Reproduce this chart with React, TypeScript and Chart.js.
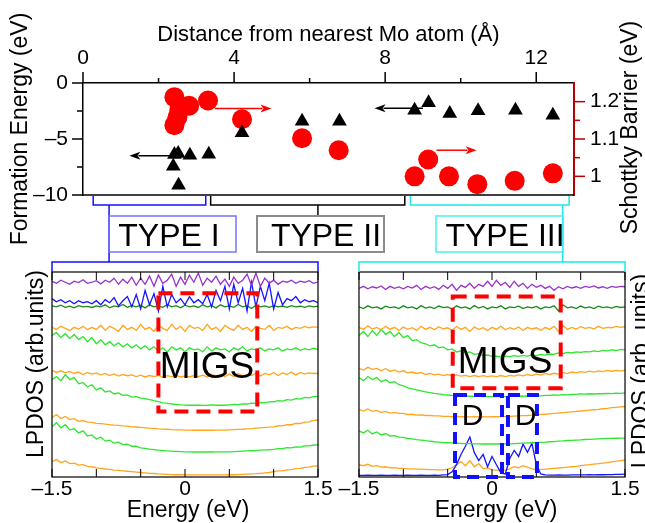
import React, { useEffect, useRef } from 'react';
import { Chart, registerables } from 'chart.js';
Chart.register(...registerables);

const FONT = '"Liberation Sans", Arial, Helvetica, sans-serif';
const DARK_RED = '#b80000';

// ---------- top panel data ----------
const TRI_DIST = [2.42, 2.52, 2.83, 3.33, 2.39, 2.53, 4.21, 5.8, 6.79, 8.78, 9.15, 9.71, 10.46, 11.45, 12.44];
const TRI_FORM_E = [-6.38, -6.3, -6.45, -6.37, -7.43, -9.12, -4.45, -3.41, -3.41, -2.43, -1.77, -2.72, -2.48, -2.43, -2.87];
const CIRC_DIST = [2.42, 2.81, 2.55, 2.5, 2.42, 3.31, 4.21, 5.8, 6.77, 8.78, 9.14, 9.69, 10.44, 11.43, 12.44];
const CIRC_BARRIER = [1.212, 1.189, 1.178, 1.158, 1.137, 1.203, 1.153, 1.102, 1.07, 1.0, 1.045, 1.0, 0.979, 0.988, 1.008];

const DIST_LABEL_TICKS = [0, 4, 8, 12];
const DIST_MINOR_TICKS = [2, 6, 10];
const FORM_LABEL_TICKS = [0, -5, -10];
const FORM_MINOR_TICKS = [-2.5, -7.5];
const BARRIER_LABEL_TICKS = [1.0, 1.1, 1.2];
const BARRIER_MINOR_TICKS = [1.05, 1.15];

// arrows
const ARROW_FROM_X = [2.43, 3.49, 9.0, 9.36];
const ARROW_TO_X = [1.23, 4.99, 7.72, 10.42];
const ARROW_Y = [-6.49, 1.182, -2.26, 1.07];
const ARROW_AXIS = ['yL', 'yR', 'yL', 'yR'];

const TYPE_NAMES = ['TYPE I', 'TYPE II', 'TYPE III'];
const TYPE_START = [0.27, 3.38, 8.67];
const TYPE_END = [3.25, 8.52, 12.87];
const TYPE_LINK = [0.69, 6.22, 12.7];

// ---------- LPDOS data ----------
const ENERGY = [-1.5, -1.45, -1.4, -1.35, -1.3, -1.25, -1.2, -1.15, -1.1, -1.05,
  -1, -0.95, -0.9, -0.85, -0.8, -0.75, -0.7, -0.65, -0.6, -0.55,
  -0.5, -0.45, -0.4, -0.35, -0.3, -0.25, -0.2, -0.15, -0.1, -0.05,
  0, 0.05, 0.1, 0.15, 0.2, 0.25, 0.3, 0.35, 0.4, 0.45,
  0.5, 0.55, 0.6, 0.65, 0.7, 0.75, 0.8, 0.85, 0.9, 0.95,
  1, 1.05, 1.1, 1.15, 1.2, 1.25, 1.3, 1.35, 1.4, 1.45, 1.5];
const ENERGY_LABEL_TICKS = [-1.5, 0, 1.5];
const ENERGY_TICKS = [-1.5, -1, -0.5, 0, 0.5, 1, 1.5];

const L_PURPLE = [9.55, 9.45, 9.6, 9.5, 9.4, 9.55, 9.48, 9.62, 9.45, 9.5, 9.58, 9.42, 9.6, 9.5, 9.7, 9.4, 9.65, 9.45, 9.75, 9.35, 9.7, 9.4, 9.8, 9.3, 9.85, 9.45, 9.6, 9.9, 9.3, 9.75, 9.4, 9.85, 9.5, 9.95, 9.35, 9.7, 9.5, 9.8, 9.4, 9.65, 9.3, 9.75, 9.45, 9.6, 9.9, 9.35, 9.95, 9.3, 9.7, 9.45, 9.6, 9.4, 9.55, 9.5, 9.6, 9.45, 9.55, 9.5, 9.58, 9.45, 9.52];
const L_BLUE = [8.7, 8.55, 8.65, 8.5, 8.6, 8.45, 8.6, 8.5, 8.55, 8.45, 8.6, 8.4, 8.65, 8.5, 8.75, 8.35, 8.6, 8.8, 8.3, 8.9, 8.2, 9.1, 8.4, 8.95, 8.1, 9.3, 8.3, 8.9, 8.5, 8.7, 8.4, 8.8, 8.5, 8.65, 8.45, 8.9, 8.3, 9.1, 8.6, 9.3, 8.2, 9.4, 8.5, 9.2, 8.1, 9.5, 8.3, 9.3, 8.6, 9.45, 8.2, 9.0, 8.4, 8.7, 8.6, 8.8, 8.5, 8.65, 8.55, 8.6, 8.5];
const L_DKGREEN = [8.35, 8.3, 8.38, 8.28, 8.33, 8.25, 8.36, 8.3, 8.32, 8.27, 8.35, 8.3, 8.4, 8.25, 8.35, 8.3, 8.42, 8.28, 8.36, 8.3, 8.38, 8.25, 8.4, 8.3, 8.35, 8.28, 8.42, 8.3, 8.36, 8.25, 8.38, 8.3, 8.35, 8.27, 8.4, 8.3, 8.36, 8.25, 8.4, 8.3, 8.35, 8.28, 8.42, 8.3, 8.36, 8.22, 8.38, 8.3, 8.35, 8.28, 8.36, 8.3, 8.34, 8.28, 8.36, 8.3, 8.33, 8.28, 8.35, 8.3, 8.34];
const L_ORANGE1 = [7.3, 7.2, 7.35, 7.25, 7.15, 7.3, 7.22, 7.35, 7.18, 7.3, 7.2, 7.4, 7.15, 7.35, 7.25, 7.1, 7.4, 7.2, 7.3, 7.15, 7.45, 7.2, 7.3, 7.1, 7.4, 7.25, 7.15, 7.45, 7.2, 7.35, 7.1, 7.4, 7.25, 7.3, 7.15, 7.45, 7.2, 7.3, 7.1, 7.4, 7.25, 7.15, 7.4, 7.2, 7.3, 7.1, 7.35, 7.25, 7.2, 7.4, 7.15, 7.3, 7.25, 7.35, 7.2, 7.3, 7.25, 7.35, 7.28, 7.32, 7.3];
const L_GREEN1 = [6.9, 7.05, 6.8, 7.0, 6.75, 6.95, 6.7, 6.85, 6.6, 6.8, 6.5, 6.7, 6.45, 6.6, 6.4, 6.55, 6.35, 6.5, 6.3, 6.45, 6.25, 6.4, 6.2, 6.35, 6.15, 6.3, 6.1, 6.35, 6.2, 6.3, 6.1, 6.3, 6.2, 6.25, 6.1, 6.35, 6.15, 6.3, 6.2, 6.25, 6.1, 6.3, 6.2, 6.35, 6.15, 6.25, 6.2, 6.3, 6.15, 6.25, 6.2, 6.3, 6.15, 6.25, 6.2, 6.3, 6.18, 6.26, 6.2, 6.28, 6.22];
const L_ORANGE2 = [5.2, 5.1, 5.18, 5.08, 5.15, 5.05, 5.12, 5.0, 5.1, 5.02, 5.08, 4.98, 5.05, 4.95, 5.03, 4.92, 5.0, 4.94, 4.98, 4.9, 4.97, 4.88, 4.95, 4.9, 4.96, 4.87, 4.94, 4.9, 4.95, 4.88, 4.93, 4.88, 4.95, 4.9, 4.97, 4.88, 5.0, 4.92, 4.98, 4.9, 5.02, 4.9, 5.05, 4.92, 5.0, 4.95, 5.06, 4.93, 5.05, 4.98, 5.1, 4.95, 5.08, 5.0, 5.12, 4.98, 5.1, 5.02, 5.08, 5.05, 5.06];
const L_GREEN2 = [4.75, 4.9, 4.7, 5.0, 4.75, 4.85, 4.55, 4.6, 4.4, 4.5, 4.25, 4.35, 4.15, 4.2, 4.05, 4.1, 3.98, 4.0, 3.9, 3.92, 3.85, 3.82, 3.78, 3.72, 3.68, 3.62, 3.6, 3.56, 3.54, 3.52, 3.51, 3.5, 3.5, 3.51, 3.49, 3.5, 3.52, 3.5, 3.51, 3.5, 3.52, 3.54, 3.53, 3.57, 3.56, 3.6, 3.59, 3.63, 3.62, 3.66, 3.67, 3.72, 3.7, 3.77, 3.75, 3.82, 3.8, 3.88, 3.86, 3.92, 3.93];
const L_ORANGE3 = [2.9, 3.05, 2.85, 2.95, 2.8, 2.85, 2.72, 2.75, 2.68, 2.66, 2.62, 2.6, 2.58, 2.55, 2.53, 2.52, 2.49, 2.48, 2.45, 2.44, 2.42, 2.4, 2.38, 2.37, 2.35, 2.34, 2.33, 2.31, 2.3, 2.3, 2.29, 2.29, 2.28, 2.28, 2.28, 2.28, 2.28, 2.29, 2.29, 2.29, 2.3, 2.31, 2.32, 2.33, 2.35, 2.36, 2.38, 2.4, 2.42, 2.43, 2.45, 2.5, 2.49, 2.55, 2.55, 2.62, 2.61, 2.68, 2.69, 2.76, 2.78];
const L_GREEN3 = [2.45, 2.65, 2.4, 2.55, 2.3, 2.35, 2.15, 2.25, 2.0, 2.05, 1.85, 1.95, 1.75, 1.8, 1.65, 1.7, 1.58, 1.6, 1.5, 1.5, 1.42, 1.4, 1.36, 1.34, 1.31, 1.29, 1.27, 1.26, 1.25, 1.24, 1.23, 1.23, 1.22, 1.22, 1.22, 1.22, 1.22, 1.23, 1.23, 1.23, 1.23, 1.24, 1.25, 1.26, 1.27, 1.28, 1.29, 1.31, 1.32, 1.33, 1.35, 1.38, 1.38, 1.43, 1.42, 1.47, 1.46, 1.52, 1.52, 1.56, 1.57];
const L_ORANGE4 = [0.75, 0.85, 0.7, 0.78, 0.65, 0.68, 0.58, 0.6, 0.52, 0.5, 0.44, 0.42, 0.39, 0.37, 0.34, 0.32, 0.3, 0.28, 0.26, 0.24, 0.22, 0.2, 0.18, 0.17, 0.15, 0.14, 0.13, 0.12, 0.11, 0.11, 0.1, 0.1, 0.1, 0.1, 0.1, 0.1, 0.1, 0.1, 0.1, 0.1, 0.11, 0.11, 0.12, 0.13, 0.14, 0.15, 0.16, 0.18, 0.2, 0.22, 0.26, 0.3, 0.3, 0.35, 0.36, 0.41, 0.42, 0.47, 0.48, 0.53, 0.54];

const R_PURPLE = [9.2, 9.3, 9.18, 9.28, 9.22, 9.32, 9.15, 9.3, 9.2, 9.27, 9.18, 9.3, 9.22, 9.35, 9.15, 9.3, 9.2, 9.28, 9.15, 9.35, 9.2, 9.4, 9.1, 9.35, 9.25, 9.45, 9.2, 9.4, 9.3, 9.55, 9.3, 9.6, 9.35, 9.5, 9.25, 9.55, 9.3, 9.45, 9.2, 9.4, 9.25, 9.35, 9.2, 9.3, 9.1, 9.28, 9.18, 9.3, 9.22, 9.28, 9.2, 9.3, 9.25, 9.32, 9.22, 9.28, 9.2, 9.3, 9.25, 9.3, 9.28];
const R_DKGREEN = [8.3, 8.22, 8.35, 8.25, 8.3, 8.2, 8.33, 8.26, 8.3, 8.22, 8.35, 8.25, 8.3, 8.2, 8.36, 8.24, 8.3, 8.22, 8.34, 8.26, 8.3, 8.18, 8.35, 8.25, 8.3, 8.2, 8.36, 8.24, 8.32, 8.2, 8.3, 8.25, 8.35, 8.2, 8.3, 8.26, 8.33, 8.22, 8.3, 8.25, 8.32, 8.2, 8.3, 8.26, 8.35, 8.1, 8.4, 8.25, 8.3, 8.22, 8.34, 8.25, 8.3, 8.22, 8.33, 8.26, 8.3, 8.24, 8.32, 8.27, 8.3];
const R_ORANGE1 = [7.3, 7.2, 7.38, 7.22, 7.3, 7.18, 7.35, 7.2, 7.3, 7.15, 7.32, 7.2, 7.28, 7.15, 7.35, 7.2, 7.3, 7.18, 7.33, 7.22, 7.28, 7.15, 7.35, 7.2, 7.3, 7.1, 7.32, 7.2, 7.28, 7.15, 7.3, 7.2, 7.35, 7.18, 7.28, 7.2, 7.32, 7.15, 7.3, 7.22, 7.28, 7.15, 7.3, 7.2, 7.35, 7.1, 7.4, 7.2, 7.3, 7.22, 7.33, 7.25, 7.3, 7.22, 7.35, 7.25, 7.3, 7.28, 7.35, 7.3, 7.33];
const R_GREEN1 = [6.9, 7.1, 6.85, 7.15, 6.9, 7.2, 6.95, 7.1, 6.85, 7.05, 6.8, 6.9, 6.65, 6.7, 6.55, 6.5, 6.4, 6.45, 6.3, 6.35, 6.2, 6.25, 6.1, 6.15, 6.05, 6.1, 5.98, 6.02, 5.92, 5.95, 5.88, 5.9, 5.86, 5.9, 5.87, 5.92, 5.88, 5.93, 5.9, 5.95, 5.92, 5.98, 5.95, 6.0, 5.98, 6.05, 6.02, 6.08, 6.05, 6.1, 6.08, 6.12, 6.1, 6.15, 6.12, 6.18, 6.15, 6.2, 6.17, 6.22, 6.2];
const R_ORANGE2 = [5.3, 5.22, 5.35, 5.25, 5.3, 5.18, 5.28, 5.15, 5.22, 5.12, 5.18, 5.08, 5.12, 5.05, 5.1, 5.0, 5.05, 4.98, 5.02, 4.95, 5.0, 4.93, 4.98, 4.92, 4.96, 4.9, 4.95, 4.9, 4.94, 4.9, 4.93, 4.9, 4.95, 4.9, 4.96, 4.92, 4.98, 4.93, 5.0, 4.95, 5.02, 4.97, 5.05, 5.0, 5.06, 5.02, 5.1, 5.04, 5.12, 5.08, 5.14, 5.1, 5.16, 5.12, 5.18, 5.14, 5.2, 5.16, 5.2, 5.18, 5.2];
const R_GREEN2 = [4.85, 4.7, 4.9, 4.75, 4.85, 4.65, 4.75, 4.6, 4.65, 4.5, 4.45, 4.35, 4.3, 4.25, 4.2, 4.15, 4.12, 4.08, 4.05, 4.02, 4.0, 3.98, 3.97, 3.95, 3.95, 3.94, 3.93, 3.93, 3.92, 3.92, 3.92, 3.92, 3.93, 3.92, 3.94, 3.93, 3.95, 3.94, 3.96, 3.95, 3.97, 3.96, 3.98, 3.98, 4.0, 3.99, 4.02, 4.01, 4.03, 4.03, 4.05, 4.04, 4.06, 4.05, 4.07, 4.06, 4.08, 4.07, 4.09, 4.08, 4.1];
const R_ORANGE3 = [3.3, 3.22, 3.32, 3.2, 3.25, 3.15, 3.2, 3.12, 3.15, 3.1, 3.1, 3.05, 3.06, 3.02, 3.03, 3.0, 3.0, 2.98, 2.98, 2.96, 2.96, 2.95, 2.95, 2.94, 2.94, 2.93, 2.94, 2.93, 2.94, 2.93, 2.94, 2.94, 2.95, 2.95, 2.96, 2.97, 2.98, 2.99, 3.0, 3.02, 3.03, 3.05, 3.06, 3.08, 3.1, 3.12, 3.14, 3.16, 3.18, 3.2, 3.22, 3.24, 3.26, 3.28, 3.3, 3.33, 3.35, 3.38, 3.4, 3.42, 3.44];
const R_GREEN3 = [2.25, 2.15, 2.28, 2.1, 2.2, 2.05, 2.12, 2.0, 2.02, 1.95, 1.93, 1.88, 1.86, 1.82, 1.8, 1.77, 1.75, 1.72, 1.7, 1.68, 1.67, 1.66, 1.65, 1.64, 1.63, 1.63, 1.62, 1.62, 1.61, 1.61, 1.61, 1.61, 1.61, 1.62, 1.62, 1.63, 1.64, 1.65, 1.66, 1.67, 1.68, 1.69, 1.7, 1.72, 1.73, 1.75, 1.76, 1.78, 1.79, 1.8, 1.81, 1.83, 1.84, 1.85, 1.86, 1.87, 1.88, 1.88, 1.89, 1.9, 1.9];
const R_ORANGE4 = [0.6, 0.55, 0.62, 0.52, 0.55, 0.48, 0.5, 0.45, 0.46, 0.42, 0.42, 0.4, 0.4, 0.38, 0.38, 0.37, 0.36, 0.36, 0.35, 0.35, 0.38, 0.45, 0.6, 0.75, 0.55, 0.8, 0.5, 0.65, 0.4, 0.45, 0.35, 0.34, 0.34, 0.34, 0.4, 0.5, 0.45, 0.55, 0.48, 0.4, 0.36, 0.37, 0.38, 0.4, 0.42, 0.44, 0.46, 0.48, 0.5, 0.52, 0.55, 0.58, 0.6, 0.63, 0.65, 0.68, 0.7, 0.74, 0.77, 0.8, 0.83];
const R_BLUE = [0.08, 0.08, 0.09, 0.08, 0.08, 0.09, 0.08, 0.08, 0.09, 0.08, 0.08, 0.09, 0.08, 0.08, 0.09, 0.08, 0.08, 0.09, 0.08, 0.1, 0.12, 0.25, 0.6, 1.1, 1.5, 1.95, 1.2, 0.8, 1.1, 0.5, 1.0, 0.6, 0.2, 0.15, 0.9, 1.3, 1.0, 1.6, 1.2, 1.65, 0.6, 0.15, 0.1, 0.09, 0.09, 0.1, 0.09, 0.09, 0.1, 0.1, 0.1, 0.1, 0.11, 0.1, 0.11, 0.11, 0.12, 0.12, 0.13, 0.13, 0.14];

const C_PURPLE = '#9932cc';
const C_BLUE = '#1515ff';
const C_DKGREEN = '#1a8a1a';
const C_ORANGE = '#ffa51e';
const C_GREEN = '#2ee62e';

const LEFT_SERIES = [
  { color: C_PURPLE, values: L_PURPLE },
  { color: C_BLUE, values: L_BLUE },
  { color: C_DKGREEN, values: L_DKGREEN },
  { color: C_ORANGE, values: L_ORANGE1 },
  { color: C_GREEN, values: L_GREEN1 },
  { color: C_ORANGE, values: L_ORANGE2 },
  { color: C_GREEN, values: L_GREEN2 },
  { color: C_ORANGE, values: L_ORANGE3 },
  { color: C_GREEN, values: L_GREEN3 },
  { color: C_ORANGE, values: L_ORANGE4 },
];
const RIGHT_SERIES = [
  { color: C_PURPLE, values: R_PURPLE },
  { color: C_DKGREEN, values: R_DKGREEN },
  { color: C_ORANGE, values: R_ORANGE1 },
  { color: C_GREEN, values: R_GREEN1 },
  { color: C_ORANGE, values: R_ORANGE2 },
  { color: C_GREEN, values: R_GREEN2 },
  { color: C_ORANGE, values: R_ORANGE3 },
  { color: C_GREEN, values: R_GREEN3 },
  { color: C_BLUE, values: R_BLUE },
  { color: C_ORANGE, values: R_ORANGE4 },
];

// annotation boxes in data units [x0, x1, y0, y1]
const LEFT_MIGS_BOX = [-0.3, 0.815, 3.19, 8.96];
const RIGHT_MIGS_BOX = [-0.443, 0.775, 4.33, 8.8];
const RIGHT_D_BOX1 = [-0.417, 0.113, 0, 4.0];
const RIGHT_D_BOX2 = [0.18, 0.507, 0, 4.0];

function seg(ctx: CanvasRenderingContext2D, x1: number, y1: number, x2: number, y2: number) {
  ctx.beginPath();
  ctx.moveTo(x1, y1);
  ctx.lineTo(x2, y2);
  ctx.stroke();
}

function vText(ctx: CanvasRenderingContext2D, text: string, baseX: number, cy: number, size: number) {
  ctx.save();
  ctx.translate(baseX, cy);
  ctx.rotate(-Math.PI / 2);
  ctx.font = `${size}px ${FONT}`;
  ctx.fillStyle = '#000';
  ctx.textAlign = 'center';
  ctx.textBaseline = 'alphabetic';
  ctx.fillText(text, 0, 0);
  ctx.restore();
}

function arrow(ctx: CanvasRenderingContext2D, x1: number, y1: number, x2: number, y2: number, color: string) {
  const ang = Math.atan2(y2 - y1, x2 - x1);
  const hl = 11, hw = 4;
  const bx = x2 - hl * Math.cos(ang), by = y2 - hl * Math.sin(ang);
  ctx.strokeStyle = color;
  ctx.fillStyle = color;
  ctx.lineWidth = 1.5;
  seg(ctx, x1, y1, bx + 2 * Math.cos(ang), by + 2 * Math.sin(ang));
  ctx.beginPath();
  ctx.moveTo(x2, y2);
  ctx.lineTo(bx + hw * Math.sin(ang), by - hw * Math.cos(ang));
  ctx.lineTo(bx + 3 * Math.cos(ang), by + 3 * Math.sin(ang));
  ctx.lineTo(bx - hw * Math.sin(ang), by + hw * Math.cos(ang));
  ctx.closePath();
  ctx.fill();
}

const topDecor = {
  id: 'topDecor',
  afterDraw(chart: any) {
    const { ctx, chartArea: a, scales } = chart;
    const x = scales.x, yL = scales.yL, yR = scales.yR;
    ctx.save();
    ctx.strokeStyle = '#000';
    ctx.lineWidth = 1.5;
    seg(ctx, a.left, a.bottom, a.right, a.bottom);
    // ticks
    DIST_LABEL_TICKS.forEach((v) => { const p = x.getPixelForValue(v); seg(ctx, p, a.top, p, a.top - 11); });
    DIST_MINOR_TICKS.forEach((v) => { const p = x.getPixelForValue(v); seg(ctx, p, a.top, p, a.top - 5); });
    FORM_LABEL_TICKS.forEach((v) => { const p = yL.getPixelForValue(v); seg(ctx, a.left - 11, p, a.left, p); });
    FORM_MINOR_TICKS.forEach((v) => { const p = yL.getPixelForValue(v); seg(ctx, a.left - 6, p, a.left, p); });
    ctx.strokeStyle = DARK_RED;
    BARRIER_LABEL_TICKS.forEach((v) => { const p = yR.getPixelForValue(v); seg(ctx, a.right, p, a.right + 11, p); });
    BARRIER_MINOR_TICKS.forEach((v) => { const p = yR.getPixelForValue(v); seg(ctx, a.right, p, a.right + 6, p); });
    // arrows
    ARROW_FROM_X.forEach((fx, i) => {
      const ys = ARROW_AXIS[i] === 'yL' ? yL : yR;
      const py = ys.getPixelForValue(ARROW_Y[i]);
      arrow(ctx, x.getPixelForValue(fx), py, x.getPixelForValue(ARROW_TO_X[i]), py, ARROW_AXIS[i] === 'yL' ? '#000' : '#ff0000');
    });
    // brackets, links, type boxes
    const bracketColors = ['#1010ff', '#000000', '#1ee6ee'];
    const boxColors = ['#7373ff', '#8c8c8c', '#48eeee'];
    const boxLeft = [109, 257, 436];
    const textX = [169, 326, 505];
    const linkEnd = [262, 216, 262];
    const by = a.bottom + 10;
    TYPE_NAMES.forEach((name, i) => {
      const x0 = x.getPixelForValue(TYPE_START[i]);
      const x1 = x.getPixelForValue(TYPE_END[i]);
      ctx.strokeStyle = bracketColors[i];
      ctx.lineWidth = 1.5;
      ctx.beginPath();
      ctx.moveTo(x0, a.bottom + 1);
      ctx.lineTo(x0, by);
      ctx.lineTo(x1, by);
      ctx.lineTo(x1, a.bottom + 1);
      ctx.stroke();
      const lx = x.getPixelForValue(TYPE_LINK[i]);
      seg(ctx, lx, by, lx, linkEnd[i]);
      ctx.strokeStyle = boxColors[i];
      ctx.lineWidth = i === 1 ? 2 : 1.5;
      ctx.strokeRect(boxLeft[i], 216, 127, 36);
      ctx.font = `32px ${FONT}`;
      ctx.fillStyle = '#000';
      ctx.textAlign = 'center';
      ctx.textBaseline = 'alphabetic';
      ctx.fillText(name, textX[i], 245.5);
    });
    // titles
    ctx.font = `22px ${FONT}`;
    ctx.fillStyle = '#000';
    ctx.textAlign = 'center';
    ctx.textBaseline = 'alphabetic';
    ctx.fillText('Distance from nearest Mo atom (Å)', (a.left + a.right) / 2, 41);
    vText(ctx, 'Formation Energy (eV)', 27, 129, 23);
    vText(ctx, 'Schottky Barrier (eV)', 637, 127.5, 23);
    ctx.restore();
  },
};

function makeLpdosDecor(opts: any) {
  return {
    id: 'lpdosDecor',
    afterDraw(chart: any) {
      const { ctx, chartArea: a, scales } = chart;
      const x = scales.x, y = scales.y;
      ctx.save();
      ctx.strokeStyle = '#000';
      ctx.lineWidth = 1.2;
      ctx.strokeRect(a.left, a.top, a.right - a.left, a.bottom - a.top);
      ctx.lineWidth = 1;
      ENERGY_TICKS.forEach((v) => {
        const p = x.getPixelForValue(v);
        seg(ctx, p, a.top, p, a.top + 8);
        seg(ctx, p, a.bottom, p, a.bottom - 8);
      });
      ctx.strokeStyle = opts.bracketColor;
      ctx.lineWidth = 1.5;
      ctx.beginPath();
      ctx.moveTo(a.left, a.top);
      ctx.lineTo(a.left, a.top - 10);
      ctx.lineTo(a.right, a.top - 10);
      ctx.lineTo(a.right, a.top);
      ctx.stroke();
      opts.boxes.forEach((b: any) => {
        const [bx0, bx1, by0, by1] = b.box;
        const px0 = x.getPixelForValue(bx0), px1 = x.getPixelForValue(bx1);
        const py0 = y.getPixelForValue(by1), py1 = y.getPixelForValue(by0);
        ctx.strokeStyle = b.color;
        ctx.lineWidth = 4;
        ctx.setLineDash(b.dash);
        ctx.strokeRect(px0, py0, px1 - px0, py1 - py0);
      });
      ctx.setLineDash([]);
      ctx.fillStyle = '#000';
      ctx.textAlign = 'center';
      ctx.textBaseline = 'alphabetic';
      opts.labels.forEach((l: any) => {
        ctx.font = `${l.size}px ${FONT}`;
        ctx.fillText(l.text, x.getPixelForValue(l.x), y.getPixelForValue(l.y));
      });
      ctx.font = `23px ${FONT}`;
      ctx.fillText('Energy (eV)', opts.energyX, 261.5);
      vText(ctx, opts.yTitle, opts.yTitleX, opts.yTitleY, 23);
      ctx.restore();
    },
  };
}

function topConfig(): any {
  return {
    type: 'scatter',
    data: {
      datasets: [
        {
          data: TRI_DIST.map((d, i) => ({ x: d, y: TRI_FORM_E[i] })),
          yAxisID: 'yL',
          pointStyle: 'triangle',
          pointRadius: 8.5,
          backgroundColor: '#000',
          borderColor: '#000',
          borderWidth: 0,
          order: 0,
        },
        {
          data: CIRC_DIST.map((d, i) => ({ x: d, y: CIRC_BARRIER[i] })),
          yAxisID: 'yR',
          pointStyle: 'circle',
          pointRadius: 10,
          backgroundColor: '#ff0000',
          borderColor: '#ff0000',
          borderWidth: 0,
          order: 1,
        },
      ],
    },
    options: {
      responsive: false,
      animation: false,
      devicePixelRatio: 1,
      events: [],
      layout: { padding: { top: 0, left: 0, right: 0, bottom: 70 } },
      plugins: { legend: { display: false }, tooltip: { enabled: false } },
      scales: {
        x: {
          type: 'linear',
          position: 'top',
          min: 0,
          max: 13,
          afterBuildTicks: (s: any) => { s.ticks = DIST_LABEL_TICKS.map((v) => ({ value: v })); },
          afterFit: (s: any) => { s.height = 83; },
          ticks: { padding: 12, color: '#000', font: { family: FONT, size: 21 }, maxRotation: 0, autoSkip: false, callback: (v: number) => String(v) },
          grid: { drawOnChartArea: false, drawTicks: false },
          border: { display: true, color: '#000', width: 1.5 },
        },
        yL: {
          type: 'linear',
          position: 'left',
          min: -10,
          max: 0,
          afterBuildTicks: (s: any) => { s.ticks = FORM_LABEL_TICKS.map((v) => ({ value: v })); },
          afterFit: (s: any) => { s.width = 83; },
          ticks: { padding: 15, color: '#000', font: { family: FONT, size: 21 }, autoSkip: false, callback: (v: number) => (v < 0 ? '\u2013' + Math.abs(v) : String(v)) },
          grid: { drawOnChartArea: false, drawTicks: false },
          border: { display: true, color: '#000', width: 1.5 },
        },
        yR: {
          type: 'linear',
          position: 'right',
          min: 0.95,
          max: 1.25,
          afterBuildTicks: (s: any) => { s.ticks = BARRIER_LABEL_TICKS.map((v) => ({ value: v })); },
          afterFit: (s: any) => { s.width = 71; },
          ticks: { padding: 16, color: '#000', font: { family: FONT, size: 21 }, autoSkip: false, callback: (v: number) => (Math.abs(v - 1) < 1e-6 ? '1' : v.toFixed(1)) },
          grid: { drawOnChartArea: false, drawTicks: false },
          border: { display: true, color: DARK_RED, width: 2 },
        },
      },
    },
    plugins: [topDecor],
  };
}

function lpdosConfig(series: any[], padding: any, decor: any): any {
  return {
    type: 'line',
    data: {
      datasets: series.map((s) => ({
        data: ENERGY.map((e, i) => ({ x: e, y: s.values[i] })),
        borderColor: s.color,
        borderWidth: 1.3,
        pointRadius: 0,
        fill: false,
        tension: 0,
      })),
    },
    options: {
      responsive: false,
      animation: false,
      devicePixelRatio: 1,
      events: [],
      layout: { padding },
      plugins: { legend: { display: false }, tooltip: { enabled: false } },
      scales: {
        x: {
          type: 'linear',
          position: 'bottom',
          min: -1.5,
          max: 1.5,
          afterBuildTicks: (s: any) => { s.ticks = ENERGY_LABEL_TICKS.map((v) => ({ value: v })); },
          afterFit: (s: any) => { s.height = 46; },
          ticks: { padding: 0, color: '#000', font: { family: FONT, size: 21 }, maxRotation: 0, autoSkip: false, callback: (v: number) => (v < 0 ? '\u2013' + Math.abs(v) : String(v)) },
          grid: { drawOnChartArea: false, drawTicks: false },
          border: { display: false },
        },
        y: { type: 'linear', display: false, min: 0, max: 10 },
      },
    },
    plugins: [decor],
  };
}

const leftDecor = makeLpdosDecor({
  bracketColor: '#1010ff',
  boxes: [{ box: LEFT_MIGS_BOX, color: '#ff0000', dash: [14, 8] }],
  labels: [{ text: 'MIGS', x: 0.248, y: 4.85, size: 37 }],
  energyX: 188,
  yTitle: 'LPDOS (arb.units)',
  yTitleX: 43,
  yTitleY: 109,
});

const rightDecor = makeLpdosDecor({
  bracketColor: '#1ee6ee',
  boxes: [
    { box: RIGHT_MIGS_BOX, color: '#ff0000', dash: [14, 8] },
    { box: RIGHT_D_BOX1, color: '#1010ff', dash: [12, 7] },
    { box: RIGHT_D_BOX2, color: '#1010ff', dash: [12, 7] },
  ],
  labels: [
    { text: 'MIGS', x: 0.147, y: 5.06, size: 37 },
    { text: 'D', x: -0.22, y: 2.54, size: 30 },
    { text: 'D', x: 0.378, y: 2.54, size: 30 },
  ],
  energyX: 176,
  yTitle: 'LPDOS (arb. units)',
  yTitleX: 328,
  yTitleY: 116,
});

export default function App() {
  const topRef = useRef<HTMLCanvasElement>(null);
  const leftRef = useRef<HTMLCanvasElement>(null);
  const rightRef = useRef<HTMLCanvasElement>(null);

  useEffect(() => {
    const charts = [
      new Chart(topRef.current as HTMLCanvasElement, topConfig()),
      new Chart(leftRef.current as HTMLCanvasElement, lpdosConfig(LEFT_SERIES, { left: 52, right: 27, top: 17, bottom: 0 }, leftDecor)),
      new Chart(rightRef.current as HTMLCanvasElement, lpdosConfig(RIGHT_SERIES, { left: 39, right: 20, top: 17, bottom: 0 }, rightDecor)),
    ];
    return () => charts.forEach((c) => c.destroy());
  }, []);

  return (
    <div style={{ position: 'fixed', left: 0, top: 0, width: 645, height: 523, background: '#fff', overflow: 'hidden' }}>
      <canvas ref={topRef} width={645} height={265} style={{ position: 'absolute', left: 0, top: 0, width: 645, height: 265 }} />
      <canvas ref={leftRef} width={345} height={268} style={{ position: 'absolute', left: 0, top: 255, width: 345, height: 268 }} />
      <canvas ref={rightRef} width={325} height={268} style={{ position: 'absolute', left: 320, top: 255, width: 325, height: 268 }} />
    </div>
  );
}
